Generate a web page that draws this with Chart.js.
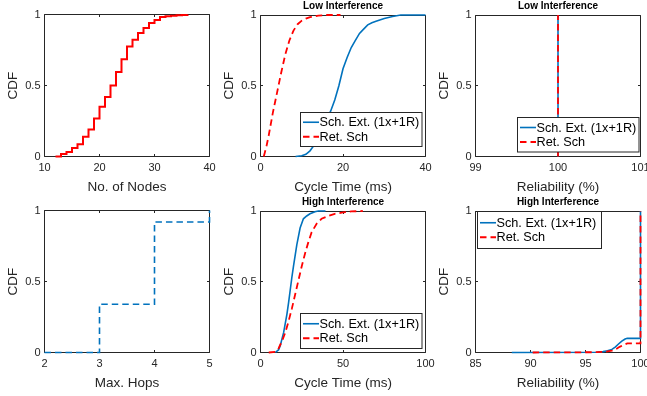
<!DOCTYPE html>
<html>
<head>
<meta charset="utf-8">
<script src="https://cdn.jsdelivr.net/npm/chart.js@4.4.1/dist/chart.umd.min.js"></script>
<style>
  html, body { margin: 0; padding: 0; background: #fff; }
  #fig { position: relative; width: 647px; height: 396px; overflow: hidden; background: #fff; }
  #fig div { position: absolute; }
</style>
</head>
<body>
<div id="fig"></div>
<script>
// --- data ---
const nodeCounts = [12, 13, 14, 15, 16, 17, 18, 19, 20, 21, 22, 23, 24, 25, 26, 27, 28, 29, 30, 31, 32, 33, 34, 35, 36];
const nodeCdf = [0, 0.017, 0.031, 0.06, 0.087, 0.14, 0.19, 0.267, 0.35, 0.42, 0.50, 0.595, 0.685, 0.775, 0.823, 0.87, 0.905, 0.94, 0.962, 0.983, 0.988, 0.992, 0.995, 0.998, 1.0];

const maxHops = [2, 3, 4, 5];
const hopsCdf = [0, 0.34, 0.92, 1];

const lowExtTime = [8.5, 10, 11, 12, 13, 14, 15, 16, 17, 18, 19, 20, 21, 22, 23, 24, 25, 26, 27, 28, 30, 32, 34, 40];
const lowExtCdf = [0, 0.005, 0.015, 0.04, 0.08, 0.13, 0.19, 0.26, 0.32, 0.40, 0.50, 0.62, 0.70, 0.77, 0.82, 0.87, 0.90, 0.93, 0.945, 0.955, 0.975, 0.99, 1.0, 1.0];
const lowRetTime = [0.8, 1.5, 2, 2.5, 3, 3.5, 4, 4.5, 5, 6, 7, 8, 9, 10, 11, 12, 14, 16, 19.4];
const lowRetCdf = [0, 0.08, 0.15, 0.23, 0.31, 0.38, 0.45, 0.52, 0.59, 0.72, 0.82, 0.89, 0.935, 0.96, 0.975, 0.985, 0.995, 1.0, 1.0];

const highExtTime = [9, 11, 12, 14, 16, 17, 18, 19, 20, 22, 24, 26, 28, 30, 33, 35, 39.4];
const highExtCdf = [0, 0.02, 0.05, 0.14, 0.27, 0.35, 0.44, 0.53, 0.61, 0.76, 0.88, 0.945, 0.965, 0.98, 0.995, 1, 1];
const highRetTime = [5, 9, 11, 13, 15, 17, 19, 21, 23, 25, 27, 29, 31, 34, 37, 41, 45, 50, 55, 62];
const highRetCdf = [0, 0.005, 0.03, 0.08, 0.14, 0.22, 0.31, 0.41, 0.51, 0.61, 0.70, 0.78, 0.85, 0.91, 0.945, 0.965, 0.98, 0.99, 0.997, 1];

const lowRelExt = [100, 100];
const lowRelExtCdf = [0, 1];
const lowRelRet = [100, 100];
const lowRelRetCdf = [0, 1];

const highRelExt = [88.3, 96, 96.6, 97, 97.4, 97.7, 98, 98.3, 98.6, 98.8, 100, 100];
const highRelExtCdf = [0, 0.002, 0.006, 0.012, 0.022, 0.038, 0.06, 0.08, 0.095, 0.1, 0.1, 1];
const highRelRet = [90.2, 96, 96.8, 97.4, 97.8, 98.1, 98.5, 98.8, 100, 100];
const highRelRetCdf = [0, 0.002, 0.006, 0.013, 0.025, 0.04, 0.055, 0.065, 0.065, 1];

const cdfTicks = [0, 0.5, 1];
const extLabel = 'Sch. Ext. (1x+1R)';
const retLabel = 'Ret. Sch';

// --- styling ---
const BLUE = '#0072BD', RED = '#FF0000', INK = '#262626';
const DASH = [6.5, 4];
Chart.defaults.font.family = "'Liberation Sans', Arial, Helvetica, sans-serif";
Chart.defaults.color = INK;

const fig = document.getElementById('fig');
const pts = (xs, ys) => xs.map((x, i) => ({x: x, y: ys[i]}));
const snap = v => Math.round(v - 0.5) + 0.5;
const plain = v => String(v);

// matlab style box with inward ticks on all four sides
const boxPlugin = {
  id: 'axBox',
  beforeDatasetsDraw(chart) {
    const {ctx, chartArea: a, scales} = chart;
    const l = snap(a.left), r = snap(a.right), t = snap(a.top), b = snap(a.bottom);
    const tl = 2.5;
    ctx.save();
    ctx.strokeStyle = INK;
    ctx.lineWidth = 1;
    ctx.beginPath();
    ctx.rect(l, t, r - l, b - t);
    scales.x.ticks.forEach(tk => {
      const x = snap(scales.x.getPixelForValue(tk.value));
      ctx.moveTo(x, b); ctx.lineTo(x, b - tl);
      ctx.moveTo(x, t); ctx.lineTo(x, t + tl);
    });
    scales.y.ticks.forEach(tk => {
      const y = snap(scales.y.getPixelForValue(tk.value));
      ctx.moveTo(l, y); ctx.lineTo(l + tl, y);
      ctx.moveTo(r, y); ctx.lineTo(r - tl, y);
    });
    ctx.stroke();
    ctx.restore();
  }
};

// title centred over the axes
const titlePlugin = {
  id: 'axTitle',
  afterDraw(chart, args, opts) {
    if (!opts.text) return;
    const {ctx, chartArea: a} = chart;
    ctx.save();
    ctx.font = "bold 10px 'Liberation Sans', Arial, sans-serif";
    ctx.fillStyle = '#000';
    ctx.textAlign = 'center';
    ctx.textBaseline = 'middle';
    ctx.fillText(opts.text, (a.left + a.right) / 2, a.top - 8.3);
    ctx.restore();
  }
};

// boxed legend inside the axes
const legendPlugin = {
  id: 'boxLegend',
  afterDraw(chart, args, opts) {
    if (!opts.box) return;
    const {ctx, chartArea: a} = chart;
    const [bx, by, bw, bh] = opts.box;
    const x0 = snap(a.left + bx), y0 = snap(a.top + by);
    ctx.save();
    ctx.fillStyle = '#fff';
    ctx.fillRect(x0, y0, bw, bh);
    ctx.strokeStyle = INK;
    ctx.lineWidth = 1;
    ctx.strokeRect(x0, y0, bw, bh);
    const rowH = 14.5;
    const top = y0 + (bh - rowH * 2) / 2 + rowH / 2;
    chart.data.datasets.forEach((ds, i) => {
      const cy = top + rowH * i;
      ctx.beginPath();
      ctx.strokeStyle = ds.borderColor;
      ctx.lineWidth = ds.borderWidth;
      ctx.setLineDash(ds.borderDash || []);
      ctx.moveTo(x0 + 2.5, cy);
      ctx.lineTo(x0 + 18.5, cy);
      ctx.stroke();
      ctx.setLineDash([]);
      ctx.fillStyle = '#000';
      ctx.font = "12.7px 'Liberation Sans', Arial, sans-serif";
      ctx.textBaseline = 'middle';
      ctx.fillText(ds.label, x0 + 19, cy + 0.5);
    });
    ctx.restore();
  }
};

// move/resize the canvas so that the plot area lands on the given box
function place(chart, holder, area) {
  const a = chart.chartArea;
  const ml = a.left, mt = a.top;
  const mr = chart.width - a.right, mb = chart.height - a.bottom;
  const w = Math.round(area[2] - area[0] + ml + mr);
  const h = Math.round(area[3] - area[1] + mt + mb);
  holder.style.left = Math.round(area[0] - ml) + 'px';
  holder.style.top = Math.round(area[1] - mt) + 'px';
  holder.style.width = w + 'px';
  holder.style.height = h + 'px';
  chart.resize(w, h);
  chart.update();
}

function panel(area, o) {
  const holder = document.createElement('div');
  const cv = document.createElement('canvas');
  cv.width = 300;
  cv.height = 220;
  holder.appendChild(cv);
  fig.appendChild(holder);

  const chart = new Chart(cv, {
    type: 'line',
    data: {
      datasets: o.series.map(s => ({
        label: s.label,
        data: pts(s.x, s.y),
        borderColor: s.color,
        borderWidth: s.width,
        borderDash: s.dash ? DASH : [],
        stepped: !!s.step,
        pointRadius: 0,
        fill: false,
        tension: 0,
        clip: false,
        order: s.order || 0
      }))
    },
    options: {
      responsive: false,
      maintainAspectRatio: false,
      animation: false,
      events: [],
      layout: {padding: {left: 0, right: 14.5, top: o.title ? 16 : 8, bottom: 0}},
      plugins: {
        legend: {display: false},
        tooltip: {enabled: false},
        axTitle: {text: o.title},
        boxLegend: {box: o.legend}
      },
      scales: {
        x: {
          type: 'linear',
          min: o.xTicks[0],
          max: o.xTicks[o.xTicks.length - 1],
          afterBuildTicks: s => { s.ticks = o.xTicks.map(v => ({value: v})); },
          ticks: {padding: 5, font: {size: 11}, color: INK, maxRotation: 0, autoSkip: false, callback: plain},
          grid: {display: false, drawTicks: false},
          border: {display: false},
          title: {display: true, text: o.xLabel, font: {size: 13.5}, color: INK, padding: 0},
          afterFit: s => { s.height = 38.5; }
        },
        y: {
          type: 'linear',
          min: 0,
          max: 1,
          afterBuildTicks: s => { s.ticks = cdfTicks.map(v => ({value: v})); },
          ticks: {padding: 4, font: {size: 11}, color: INK, callback: plain},
          grid: {display: false, drawTicks: false},
          border: {display: false},
          title: {display: true, text: 'CDF', font: {size: 13.5}, color: INK, padding: 0},
          afterFit: s => { s.width = 39.5; }
        }
      }
    },
    plugins: [boxPlugin, legendPlugin, titlePlugin]
  });
  place(chart, holder, area);
  return chart;
}

const colX = [[44.5, 209.5], [260.5, 425.5], [475.5, 640.5]];
const rowY = [[15, 156.5], [211, 352.5]];
const cell = (c, r) => [colX[c][0], rowY[r][0], colX[c][1], rowY[r][1]];

panel(cell(0, 0), {
  xTicks: [10, 20, 30, 40], xLabel: 'No. of Nodes',
  series: [{label: 'Nodes', x: nodeCounts, y: nodeCdf, color: RED, width: 2, step: true}]
});

panel(cell(1, 0), {
  xTicks: [0, 20, 40], xLabel: 'Cycle Time (ms)', title: 'Low Interference',
  legend: [39.5, 97, 121.5, 34],
  series: [
    {label: extLabel, x: lowExtTime, y: lowExtCdf, color: BLUE, width: 1.6, order: 1},
    {label: retLabel, x: lowRetTime, y: lowRetCdf, color: RED, width: 1.8, dash: true, order: 0}
  ]
});

panel(cell(2, 0), {
  xTicks: [99, 100, 101], xLabel: 'Reliability (%)', title: 'Low Interference',
  legend: [42, 102, 121.5, 34.5],
  series: [
    {label: extLabel, x: lowRelExt, y: lowRelExtCdf, color: BLUE, width: 1.6, order: 1},
    {label: retLabel, x: lowRelRet, y: lowRelRetCdf, color: RED, width: 1.8, dash: true, order: 0}
  ]
});

panel(cell(0, 1), {
  xTicks: [2, 3, 4, 5], xLabel: 'Max. Hops',
  series: [{label: 'Hops', x: maxHops, y: hopsCdf, color: BLUE, width: 1.6, dash: true, step: true}]
});

panel(cell(1, 1), {
  xTicks: [0, 50, 100], xLabel: 'Cycle Time (ms)', title: 'High Interference',
  legend: [39.5, 102, 121.5, 35],
  series: [
    {label: extLabel, x: highExtTime, y: highExtCdf, color: BLUE, width: 1.6, order: 1},
    {label: retLabel, x: highRetTime, y: highRetCdf, color: RED, width: 1.8, dash: true, order: 0}
  ]
});

panel(cell(2, 1), {
  xTicks: [85, 90, 95, 100], xLabel: 'Reliability (%)', title: 'High Interference',
  legend: [2, 0, 124, 37],
  series: [
    {label: extLabel, x: highRelExt, y: highRelExtCdf, color: BLUE, width: 1.6, order: 1},
    {label: retLabel, x: highRelRet, y: highRelRetCdf, color: RED, width: 1.8, dash: true, order: 0}
  ]
});
</script>
</body>
</html>
